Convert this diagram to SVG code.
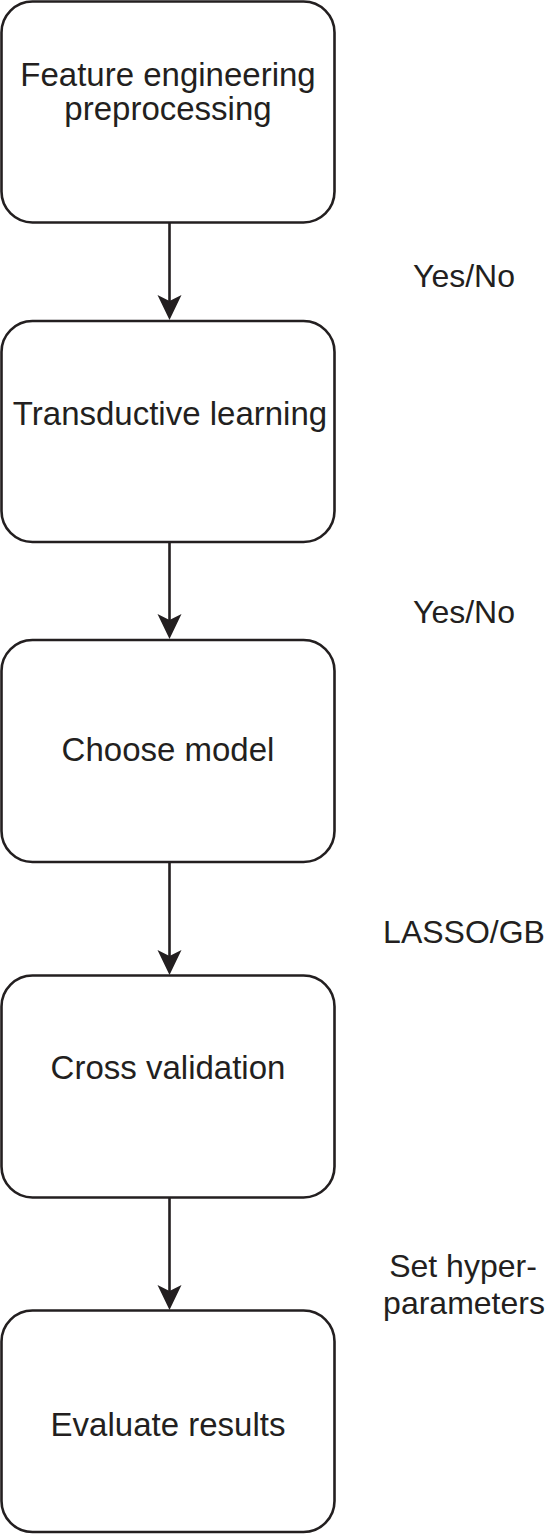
<svg xmlns="http://www.w3.org/2000/svg" width="548" height="1534" viewBox="0 0 548 1534">
<style>
.box{fill:#ffffff;stroke:#231f20;stroke-width:2.6}
.conn{stroke:#231f20;stroke-width:2.6;fill:none}
text{font-family:"Liberation Sans",Arial,Helvetica,sans-serif;font-size:32px;fill:#231f20;text-anchor:middle}
.nt{font-size:33px}
</style>
<defs>
<marker id="arrow" markerUnits="userSpaceOnUse" viewBox="-31 -13 32 26" markerWidth="32" markerHeight="26" refX="-5" refY="0" orient="auto">
<path d="M0,0 L-25,-12 L-19,0 L-25,12 Z" fill="#231f20"/>
</marker>
</defs>
<rect width="548" height="1534" fill="#ffffff"/>
<g id="connectors">
<line class="conn" x1="169.5" y1="222.5" x2="169.5" y2="315" marker-end="url(#arrow)"/>
<line class="conn" x1="169.5" y1="542.5" x2="169.5" y2="634" marker-end="url(#arrow)"/>
<line class="conn" x1="169.5" y1="862" x2="169.5" y2="970" marker-end="url(#arrow)"/>
<line class="conn" x1="169.5" y1="1197.5" x2="169.5" y2="1305" marker-end="url(#arrow)"/>
</g>
<g id="node-feature">
<rect class="box" x="1.5" y="1.5" width="333" height="221" rx="31"/>
<text class="nt" x="168" y="86">Feature engineering</text>
<text class="nt" x="168" y="120">preprocessing</text>
</g>
<g id="node-transductive">
<rect class="box" x="1.5" y="321" width="333" height="221" rx="31"/>
<text class="nt" x="170" y="425">Transductive learning</text>
</g>
<g id="node-choose">
<rect class="box" x="1.5" y="640" width="333" height="222" rx="31"/>
<text class="nt" x="168" y="761">Choose model</text>
</g>
<g id="node-cross">
<rect class="box" x="1.5" y="975.5" width="333" height="222" rx="31"/>
<text class="nt" x="168" y="1079">Cross validation</text>
</g>
<g id="node-evaluate">
<rect class="box" x="1.5" y="1310.5" width="333" height="221.5" rx="31"/>
<text class="nt" x="168" y="1436">Evaluate results</text>
</g>
<g id="labels">
<text x="464" y="287">Yes/No</text>
<text x="464" y="623">Yes/No</text>
<text x="464" y="943">LASSO/GB</text>
<text x="463" y="1277">Set hyper-</text>
<text x="464" y="1314">parameters</text>
</g>
</svg>
